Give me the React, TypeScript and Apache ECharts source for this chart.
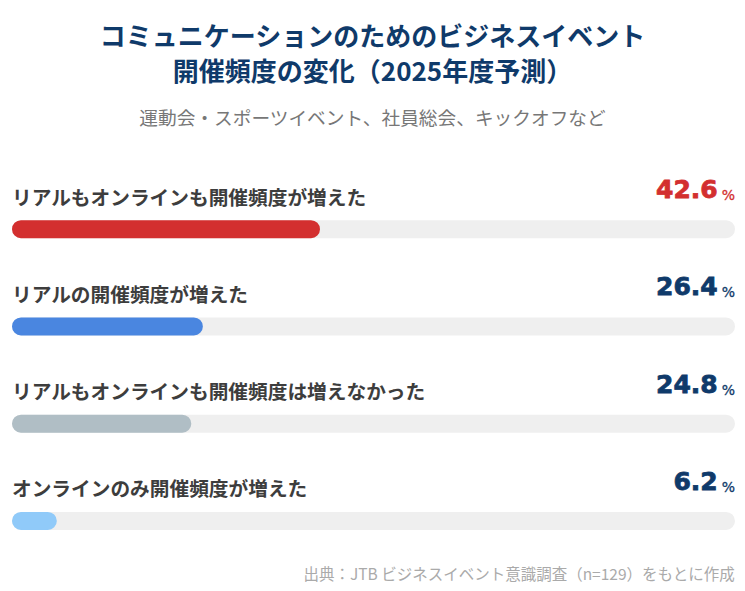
import React, { useEffect, useRef } from 'react';
import * as echarts from 'echarts';

// データ
const categories = [
  'リアルもオンラインも開催頻度が増えた',
  'リアルの開催頻度が増えた',
  'リアルもオンラインも開催頻度は増えなかった',
  'オンラインのみ開催頻度が増えた',
];
const values = [42.6, 26.4, 24.8, 6.2];
const barColors = ['#d32f2f', '#4a86e0', '#b0bec5', '#90caf9'];
const valueColors = ['#d32f2f', '#0f3a6a', '#0f3a6a', '#0f3a6a'];
const trackValues = [100, 100, 100, 100];

const titleText = 'コミュニケーションのためのビジネスイベント\n開催頻度の変化（2025年度予測）';
const subText = '運動会・スポーツイベント、社員総会、キックオフなど';
const sourceText = '出典：JTB ビジネスイベント意識調査（n=129）をもとに作成';

const JP = "'Noto Sans CJK JP', sans-serif";
const NUM = "'DejaVu Sans', sans-serif";

const App: React.FC = () => {
  const chartRef = useRef<HTMLDivElement>(null);

  useEffect(() => {
    document.body.style.margin = '0';
    const chart = echarts.init(chartRef.current!, undefined, { renderer: 'svg' });

    const valueStyle = (color: string) => ({
      fontFamily: NUM,
      fontSize: 25,
      fontWeight: 'bold',
      color,
      textBorderColor: color,
      textBorderWidth: 0.8,
      lineHeight: 26,
      verticalAlign: 'bottom',
    });
    const pctStyle = (color: string) => ({
      fontFamily: NUM,
      fontSize: 14,
      color,
      textBorderColor: color,
      textBorderWidth: 0.3,
      lineHeight: 17,
      padding: [0, 0, 0, 4],
      verticalAlign: 'bottom',
    });

    const option = {
      animation: false,
      backgroundColor: '#ffffff',
      title: [
        {
          text: titleText,
          left: 'center',
          top: 17,
          padding: 0,
          textStyle: {
            fontFamily: JP,
            fontSize: 26,
            fontWeight: 'bold',
            color: '#0f3a6a',
            lineHeight: 35,
          },
        },
        {
          text: subText,
          left: 'center',
          top: 104,
          padding: 0,
          textStyle: {
            fontFamily: JP,
            fontSize: 18.7,
            fontWeight: 'normal',
            color: '#777777',
            lineHeight: 24,
          },
        },
        {
          text: sourceText,
          right: 10,
          top: 563,
          padding: 0,
          textStyle: {
            fontFamily: JP,
            fontSize: 15.5,
            fontWeight: 'normal',
            color: '#aaaaaa',
            lineHeight: 20,
          },
        },
      ],
      grid: { left: 12, right: 10, top: 180.5, height: 389 },
      xAxis: { type: 'value', min: 0, max: 100, show: false },
      yAxis: { type: 'category', data: categories, inverse: true, show: false },
      series: [
        {
          type: 'bar',
          data: trackValues,
          barWidth: 18,
          silent: true,
          itemStyle: { color: '#efefef', borderRadius: 9 },
          label: {
            show: true,
            position: ['100%', -18],
            align: 'right',
            verticalAlign: 'bottom',
            formatter: (p: any) => {
              const k = p.dataIndex === 0 ? 'r' : 'n';
              return `{v${k}|${values[p.dataIndex]}}{p${k}|%}`;
            },
            rich: {
              vr: valueStyle(valueColors[0]),
              vn: valueStyle(valueColors[1]),
              pr: pctStyle(valueColors[0]),
              pn: pctStyle(valueColors[1]),
            },
          },
        },
        {
          type: 'bar',
          barGap: '-100%',
          barWidth: 18,
          data: values.map((v, i) => ({ value: v, itemStyle: { color: barColors[i] } })),
          itemStyle: { borderRadius: 9 },
          label: {
            show: true,
            position: [0, -24],
            align: 'left',
            verticalAlign: 'middle',
            formatter: (p: any) => categories[p.dataIndex],
            fontFamily: JP,
            fontSize: 19.7,
            fontWeight: 'bold',
            color: '#3d3d3d',
          },
        },
      ],
    };

    chart.setOption(option);
    return () => chart.dispose();
  }, []);

  return <div ref={chartRef} style={{ width: 745, height: 591 }} />;
};

export default App;
